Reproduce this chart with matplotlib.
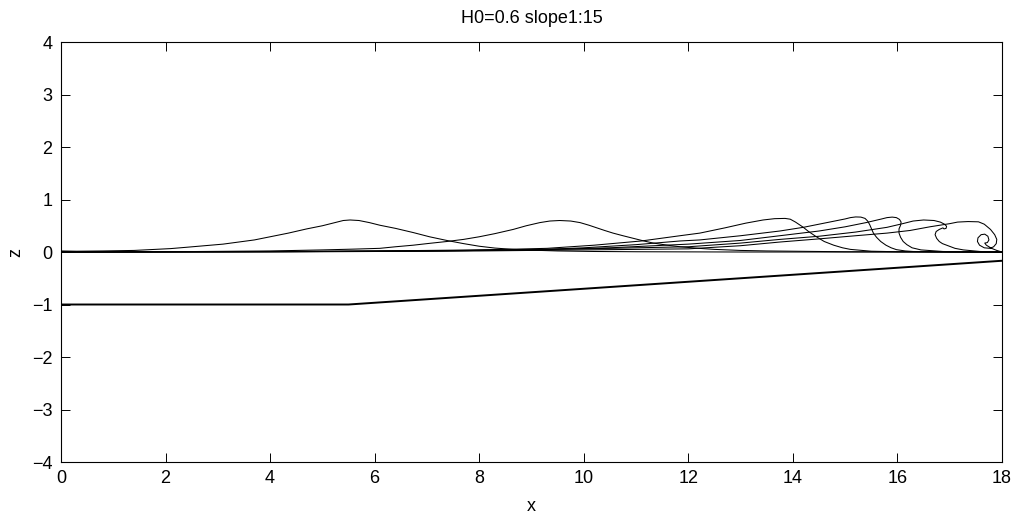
import matplotlib
matplotlib.use("Agg")
import matplotlib.pyplot as plt

# bottom profile (flat, then slope 1:15)
bed_x = [0.0, 5.5, 18.0]
bed_z = [-1.0, -1.0, -0.1667]

# free-surface snapshots
w1_x = [0.0, 0.3, 0.8, 1.4, 1.8, 2.1, 2.4, 2.75, 3.1, 3.4, 3.7, 4.0, 4.35, 4.7, 5.0, 5.2,
        5.4, 5.53, 5.7, 5.9, 6.1, 6.4, 6.74, 7.05, 7.38, 7.7, 8.0, 8.3, 8.65, 9.0, 9.5,
        10.2, 11.0, 13.0, 18.0]
w1_z = [0.02, 0.015, 0.02, 0.03, 0.05, 0.065, 0.09, 0.12, 0.15, 0.19, 0.23, 0.29, 0.36, 0.44,
        0.5, 0.55, 0.6, 0.61, 0.6, 0.56, 0.51, 0.45, 0.37, 0.29, 0.22, 0.16, 0.11, 0.075,
        0.05, 0.035, 0.02, 0.01, 0.005, 0.0, 0.0]

w2_x = [0.0, 2.0, 4.0, 5.0, 5.6, 6.1, 6.4, 6.74, 7.05, 7.38, 7.7, 8.0, 8.3, 8.65, 8.9, 9.16,
        9.35, 9.54, 9.75, 9.93, 10.1, 10.25, 10.4, 10.56, 10.75, 10.95, 11.15, 11.33, 11.6,
        11.84, 12.2, 12.5, 13.0, 13.5, 15.0, 18.0]
w2_z = [0.0, 0.005, 0.02, 0.04, 0.055, 0.07, 0.1, 0.13, 0.165, 0.2, 0.24, 0.29, 0.35, 0.43,
        0.5, 0.56, 0.59, 0.6, 0.59, 0.56, 0.51, 0.46, 0.41, 0.36, 0.31, 0.26, 0.21, 0.17, 0.13,
        0.1, 0.07, 0.05, 0.03, 0.02, 0.005, 0.0]

w3_x = [0.0, 3.0, 6.0, 7.5, 8.5, 9.3, 10.2, 11.1, 11.84, 12.22, 12.7, 13.1, 13.43, 13.65,
        13.85, 13.95, 14.05, 14.2, 14.3, 14.45, 14.6, 14.78, 14.95, 15.1, 15.5, 16.0, 18.0]
w3_z = [0.0, 0.005, 0.02, 0.035, 0.05, 0.07, 0.13, 0.21, 0.31, 0.36, 0.46, 0.55, 0.61, 0.635,
        0.64, 0.625, 0.57, 0.47, 0.39, 0.29, 0.2, 0.13, 0.08, 0.05, 0.015, 0.005, 0.0]

w4_x = [0.0, 4.0, 7.0, 9.0, 10.0, 11.0, 11.84, 12.22, 13.0, 13.75, 14.2, 14.6, 15.0, 15.1,
        15.2, 15.3, 15.38, 15.43, 15.47, 15.5, 15.54, 15.6, 15.68, 15.78, 15.88, 15.98,
        16.15, 16.3, 17.0, 18.0]
w4_z = [0.0, 0.005, 0.02, 0.04, 0.08, 0.14, 0.21, 0.23, 0.31, 0.4, 0.47, 0.55, 0.63, 0.655,
        0.668, 0.665, 0.64, 0.59, 0.52, 0.45, 0.36, 0.28, 0.2, 0.13, 0.08, 0.045,
        0.02, 0.01, 0.0, 0.0]

w5_x = [0.0, 4.0, 7.0, 9.0, 10.5, 12.0, 13.0, 13.75, 14.5, 15.0, 15.4, 15.7, 15.8, 15.9,
        15.98, 16.04, 16.07, 16.06, 16.03, 16.03, 16.06, 16.11, 16.18, 16.28, 16.45, 16.87,
        17.5, 18.0]
w5_z = [0.0, 0.005, 0.02, 0.04, 0.08, 0.15, 0.22, 0.31, 0.4, 0.48, 0.56, 0.63, 0.655, 0.665,
        0.655, 0.62, 0.57, 0.51, 0.44, 0.36, 0.28, 0.2, 0.14, 0.08, 0.04, 0.01,
        0.0, 0.0]

w6_x = [0.0, 5.0, 8.0, 10.0, 12.0, 13.0, 13.75, 14.5, 15.2, 15.8, 16.1, 16.3, 16.5, 16.7,
        16.82, 16.9, 16.94, 16.93, 16.89, 16.87, 16.8, 16.74, 16.72, 16.75, 16.8, 16.86,
        16.94, 17.1, 17.26, 17.58, 18.0]
w6_z = [0.0, 0.01, 0.03, 0.06, 0.1, 0.17, 0.24, 0.3, 0.38, 0.47, 0.54, 0.59, 0.61, 0.6,
        0.57, 0.53, 0.49, 0.45, 0.44, 0.46, 0.43, 0.39, 0.33, 0.26, 0.2, 0.16,
        0.13, 0.07, 0.04, 0.01, 0.0]

w7_x = [0.0, 5.0, 8.0, 10.0, 12.0, 13.0, 13.75, 14.5, 15.2, 15.8, 16.24, 16.62, 17.0, 17.15,
        17.35, 17.55, 17.66, 17.78, 17.86, 17.9, 17.89, 17.84, 17.77, 17.66, 17.57, 17.53,
        17.54, 17.6, 17.67, 17.73, 17.75, 17.72, 17.67, 17.7, 17.8, 17.9, 18.0]
w7_z = [0.0, 0.005, 0.02, 0.04, 0.06, 0.12, 0.19, 0.25, 0.31, 0.36, 0.41, 0.48, 0.54, 0.57,
        0.58, 0.575, 0.53, 0.43, 0.33, 0.24, 0.16, 0.1, 0.07, 0.08, 0.13, 0.2,
        0.27, 0.33, 0.34, 0.3, 0.23, 0.18, 0.17, 0.13, 0.07, 0.03, 0.0]

snapshots = [(w1_x, w1_z), (w2_x, w2_z), (w3_x, w3_z), (w4_x, w4_z),
             (w5_x, w5_z), (w6_x, w6_z), (w7_x, w7_z)]

plt.rcParams['font.family'] = ['Liberation Sans', 'DejaVu Sans']
plt.rcParams['font.size'] = 13

fig = plt.figure(figsize=(10.21, 5.18), dpi=100)
ax = fig.add_axes([0.0597, 0.1081, 0.9217, 0.8108])

for sx, sz in snapshots:
    ax.plot(sx, sz, color='k', linewidth=0.75)
ax.plot(bed_x, bed_z, color='k', linewidth=1.4)

ax.set_xlim(0, 18)
ax.set_ylim(-4, 4)
ax.set_xticks(range(0, 19, 2))
ax.set_yticks(range(-4, 5))
ax.tick_params(direction='in', length=6.5, width=0.7, top=True, right=True,
               labelsize=13, pad=6)
for sp in ax.spines.values():
    sp.set_linewidth(0.8)

ax.set_xlabel("x", fontsize=13, labelpad=8)
ax.set_ylabel("z", fontsize=13, labelpad=5.5)
ax.set_title("H0=0.6 slope1:15", fontsize=13, pad=13.5)

fig.savefig("out.png", dpi=100)
